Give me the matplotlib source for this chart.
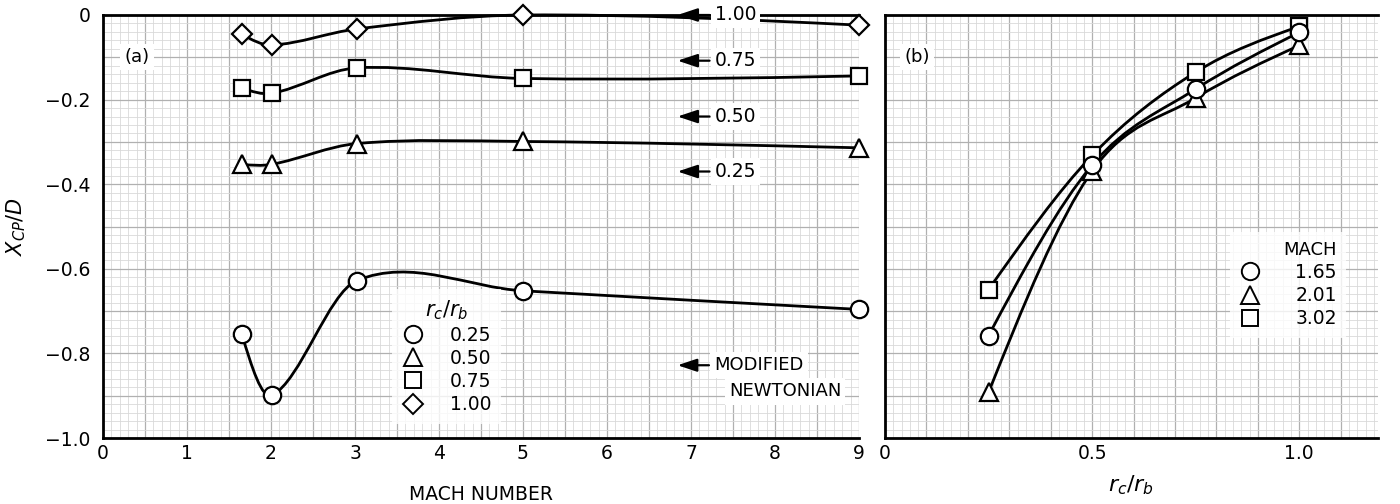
import numpy as np
import matplotlib
matplotlib.use("Agg")
import matplotlib.pyplot as plt
from matplotlib.path import Path
from matplotlib.patches import PathPatch
from matplotlib.lines import Line2D
from matplotlib.ticker import MultipleLocator, FuncFormatter

plt.rcParams['font.family'] = ['DejaVu Sans']
plt.rcParams['mathtext.fontset'] = 'dejavusans'

# ---------------- data ----------------
# panel (a): X_CP/D vs Mach number for r_c/r_b values
mach = [1.65, 2.01, 3.02, 5.0, 9.0]
xcp_rc025 = [-0.753, -0.899, -0.628, -0.652, -0.696]
xcp_rc050 = [-0.353, -0.353, -0.304, -0.299, -0.314]
xcp_rc075 = [-0.172, -0.185, -0.125, -0.150, -0.144]
xcp_rc100 = [-0.045, -0.071, -0.033, 0.000, -0.024]
rc_labels = ["0.25", "0.50", "0.75", "1.00"]

# modified Newtonian values (arrows)
newt_labels = ["1.00", "0.75", "0.50", "0.25"]
newt_values = [0.0, -0.108, -0.240, -0.370]
newt_note_value = -0.828

# panel (b): X_CP/D vs r_c/r_b for Mach numbers
rcrb = [0.25, 0.50, 0.75, 1.00]
xcp_m165 = [-0.758, -0.355, -0.175, -0.041]
xcp_m201 = [-0.892, -0.369, -0.196, -0.072]
xcp_m302 = [-0.649, -0.332, -0.135, -0.027]
mach_labels = ["1.65", "2.01", "3.02"]

xticklabels_a = ["0", "1", "2", "3", "4", "5", "6", "7", "8", "9"]
yticklabels = ["0", "\u22120.2", "\u22120.4", "\u22120.6", "\u22120.8", "\u22121.0"]
xticklabels_b = ["0", "0.5", "1.0"]

# ---------------- helpers ----------------
def fair_curve(ax, x, y, lw=2.0):
    """Smooth faired curve through the data points (cubic Bezier path)."""
    x = np.asarray(x, float)
    y = np.asarray(y, float)
    n = len(x)
    m = np.zeros(n)
    for i in range(1, n - 1):
        m[i] = (y[i + 1] - y[i - 1]) / (x[i + 1] - x[i - 1])
    c0 = (y[1] - y[0]) / (x[1] - x[0])
    cn = (y[-1] - y[-2]) / (x[-1] - x[-2])
    m[0] = 1.5 * c0 - 0.5 * m[1] if n > 2 else c0
    m[-1] = 1.5 * cn - 0.5 * m[-2] if n > 2 else cn
    verts = [(x[0], y[0])]
    codes = [Path.MOVETO]
    for i in range(n - 1):
        h = x[i + 1] - x[i]
        verts += [(x[i] + h / 3, y[i] + m[i] * h / 3),
                  (x[i + 1] - h / 3, y[i + 1] - m[i + 1] * h / 3),
                  (x[i + 1], y[i + 1])]
        codes += [Path.CURVE4] * 3
    patch = PathPatch(Path(verts, codes), fc='none', ec='black', lw=lw,
                      zorder=3, clip_on=False)
    ax.add_patch(patch)


def markers(ax, x, y, marker, ms):
    ax.plot(x, y, ls='none', marker=marker, ms=ms, mfc='white', mec='black',
            mew=1.6, zorder=4, clip_on=False)


def style_axes(ax):
    ax.set_facecolor('white')
    ax.grid(which='minor', color='#d9d9d9', lw=0.6, ls='-')
    ax.grid(which='major', color='#b0b0b0', lw=0.9, ls='-')
    ax.set_axisbelow(True)
    ax.tick_params(which='both', length=0, labelsize=13.5)
    ax.tick_params(axis='x', pad=4)
    ax.tick_params(axis='y', pad=9)
    for s in ['left', 'bottom', 'top']:
        ax.spines[s].set_linewidth(2.0)
        ax.spines[s].set_color('black')
    ax.spines['right'].set_visible(False)


ARROW = dict(arrowstyle='-|>,head_length=0.9,head_width=0.3',
             color='black', lw=1.6, shrinkA=1, shrinkB=0)

# ---------------- figure ----------------
fig = plt.figure(figsize=(14, 5.04), dpi=100)
W, H = 1400, 504
ax1 = fig.add_axes([103 / W, (H - 438) / H, (859 - 103) / W, (438 - 15) / H])
ax2 = fig.add_axes([885 / W, (H - 438) / H, (1378 - 885) / W, (438 - 15) / H])

# panel (a)
ax1.set_xlim(0, 9)
ax1.set_ylim(-1.0, 0)
ax1.xaxis.set_major_locator(MultipleLocator(0.5))
ax1.xaxis.set_minor_locator(MultipleLocator(0.1))
ax1.yaxis.set_major_locator(MultipleLocator(0.1))
ax1.yaxis.set_minor_locator(MultipleLocator(0.02))
ax1.xaxis.set_major_formatter(FuncFormatter(
    lambda v, p: xticklabels_a[int(round(v))] if abs(v - round(v)) < 1e-6 and 0 <= round(v) < len(xticklabels_a) else ""))
ax1.yaxis.set_major_formatter(FuncFormatter(
    lambda v, p: yticklabels[int(round(-v / 0.2))] if abs(v / 0.2 - round(v / 0.2)) < 1e-6 and 0 <= round(-v / 0.2) < len(yticklabels) else ""))
style_axes(ax1)

series_a = [(xcp_rc025, 'o', 12.5), (xcp_rc050, '^', 12.5),
            (xcp_rc075, 's', 11.5), (xcp_rc100, 'D', 10.5)]
for yv, mk, ms in series_a:
    fair_curve(ax1, mach, yv)
    markers(ax1, mach, yv, mk, ms)

# Newtonian arrows
for lab, v in zip(newt_labels, newt_values):
    ax1.annotate(lab, xy=(6.84, v), xytext=(7.28, v), fontsize=13.5,
                 va='center', ha='left',
                 bbox=dict(fc='white', ec='none', pad=2.5),
                 arrowprops=ARROW, zorder=6, annotation_clip=False)
ax1.annotate("MODIFIED", xy=(6.84, newt_note_value), xytext=(7.28, newt_note_value),
             fontsize=13, va='center', ha='left',
             bbox=dict(fc='white', ec='none', pad=3),
             arrowprops=ARROW, zorder=6, annotation_clip=False)
ax1.text(7.45, newt_note_value - 0.062, "NEWTONIAN", fontsize=13, va='center', ha='left',
         bbox=dict(fc='white', ec='none', pad=3), zorder=5)

ax1.text(0.045, 0.9, "(a)", transform=ax1.transAxes, fontsize=13, ha='center',
         va='center', bbox=dict(fc='white', ec='none', pad=3), zorder=5)

handles_a = [Line2D([], [], ls='none', marker=mk, ms=ms, mfc='white', mec='black', mew=1.4)
             for _, mk, ms in series_a]
leg1 = ax1.legend(handles_a, rc_labels, title=r'$r_c/r_b$', loc='lower left',
                  bbox_to_anchor=(0.37, 0.012), frameon=True, fontsize=13.5,
                  title_fontsize=15, handletextpad=1.4, handlelength=1.2,
                  labelspacing=0.22, borderpad=0.5, fancybox=False, numpoints=1)
leg1.get_frame().set_facecolor('white')
leg1.get_frame().set_edgecolor('none')
leg1._legend_box.align = "center"
leg1.set_zorder(7)

ax1.set_xlabel("MACH NUMBER", fontsize=13.5, labelpad=16)
ax1.set_ylabel(r'$X_{CP}/D$', fontsize=15, labelpad=12)

# panel (b)
ax2.set_xlim(0, 1.19)
ax2.set_ylim(-1.0, 0)
ax2.xaxis.set_major_locator(MultipleLocator(0.1))
ax2.xaxis.set_minor_locator(MultipleLocator(0.02))
ax2.yaxis.set_major_locator(MultipleLocator(0.1))
ax2.yaxis.set_minor_locator(MultipleLocator(0.02))
ax2.xaxis.set_major_formatter(FuncFormatter(
    lambda v, p: xticklabels_b[int(round(v / 0.5))] if abs(v / 0.5 - round(v / 0.5)) < 1e-6 and 0 <= round(v / 0.5) < len(xticklabels_b) else ""))
ax2.yaxis.set_major_formatter(FuncFormatter(lambda v, p: ""))
style_axes(ax2)

series_b = [(xcp_m302, 's', 11.5), (xcp_m201, '^', 12.5), (xcp_m165, 'o', 12.5)]
for yv, mk, ms in series_b:
    fair_curve(ax2, rcrb, yv)
for yv, mk, ms in series_b:
    markers(ax2, rcrb, yv, mk, ms)

ax2.text(0.065, 0.9, "(b)", transform=ax2.transAxes, fontsize=13, ha='center',
         va='center', bbox=dict(fc='white', ec='none', pad=3), zorder=5)

handles_b = [Line2D([], [], ls='none', marker=mk, ms=ms, mfc='white', mec='black', mew=1.4)
             for mk, ms in [('o', 12.5), ('^', 12.5), ('s', 11.5)]]
leg2 = ax2.legend(handles_b, mach_labels, title='MACH', loc='lower left',
                  bbox_to_anchor=(0.68, 0.215), frameon=True, fontsize=13.5,
                  title_fontsize=13, handletextpad=1.8, handlelength=1.2,
                  labelspacing=0.22, borderpad=0.5, fancybox=False, numpoints=1)
leg2.get_frame().set_facecolor('white')
leg2.get_frame().set_edgecolor('none')
leg2._legend_box.align = "right"
leg2.set_zorder(7)

ax2.set_xlabel(r'$r_c/r_b$', fontsize=16, labelpad=8)

fig.savefig("out.png", dpi=100, facecolor='white')
